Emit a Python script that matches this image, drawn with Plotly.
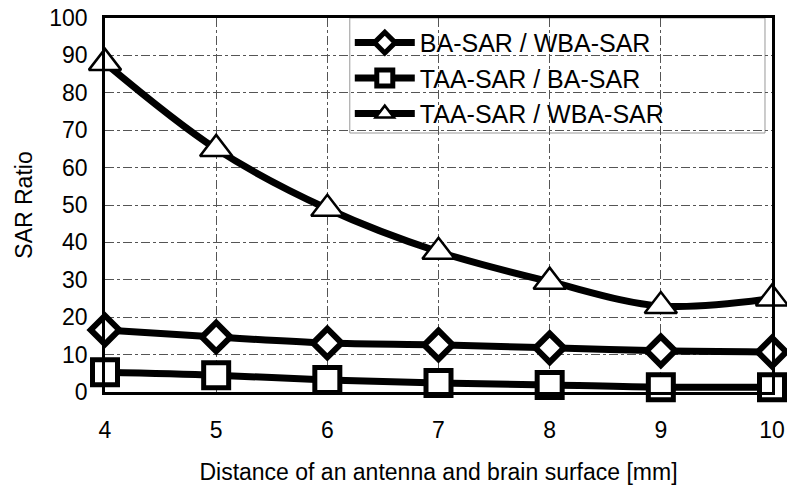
import plotly.graph_objects as go

distance = [4, 5, 6, 7, 8, 9, 10]
ba_wba = [16.6, 14.7, 13.1, 12.6, 11.8, 11.0, 10.7]
taa_ba = [5.3, 4.5, 3.2, 2.4, 1.9, 1.3, 1.3]
taa_wba = [88, 65, 49, 37.5, 29.5, 23, 25]
series_names = ["BA-SAR / WBA-SAR", "TAA-SAR / BA-SAR", "TAA-SAR / WBA-SAR"]
x_ticks = [4, 5, 6, 7, 8, 9, 10]
y_ticks = [0, 10, 20, 30, 40, 50, 60, 70, 80, 90, 100]

FAM = "Liberation Sans"

fig = go.Figure()
fig.add_trace(go.Scatter(
    x=distance, y=ba_wba, name=series_names[0], mode="lines+markers",
    line=dict(color="black", width=7, shape="spline"),
    marker=dict(symbol="diamond", size=22, color="white", line=dict(color="black", width=6)),
    cliponaxis=False))
fig.add_trace(go.Scatter(
    x=distance, y=taa_ba, name=series_names[1], mode="lines+markers",
    line=dict(color="black", width=7, shape="spline"),
    marker=dict(symbol="square", size=25, color="white", line=dict(color="black", width=5)),
    cliponaxis=False))
fig.add_trace(go.Scatter(
    x=distance, y=taa_wba, name=series_names[2], mode="lines+markers",
    line=dict(color="black", width=7, shape="spline"),
    marker=dict(symbol="triangle-up", size=28, color="white", line=dict(color="black", width=2.5)),
    cliponaxis=False))

# legend frame (wider than plotly's auto legend box, as in the reference)
fig.add_shape(type="rect", xref="paper", yref="paper",
              x0=0.367, x1=0.9895, y0=0.6925, y1=1.0,
              fillcolor="white", line=dict(color="#999", width=1), layer="between")

fig.update_layout(
    width=787, height=488,
    margin=dict(l=105, r=15, t=18, b=96, autoexpand=False),
    paper_bgcolor="white", plot_bgcolor="white",
    font=dict(family=FAM, size=23, color="black"),
    showlegend=True,
    hovermode=False,
    legend=dict(x=0.367, y=0.995, xanchor="left", yanchor="top",
                bgcolor="rgba(0,0,0,0)", borderwidth=0,
                font=dict(family=FAM, size=25, color="black"),
                itemwidth=60, tracegroupgap=0),
    xaxis=dict(range=[4, 10], tickmode="array", tickvals=x_ticks,
               showgrid=True, gridcolor="#555", gridwidth=1, griddash="dashdot",
               showline=True, linecolor="black", linewidth=2.5, mirror=True,
               ticks="", ticklabelstandoff=16,
               tickfont=dict(family=FAM, size=23, color="black"),
               automargin=False,
               title=dict(text="Distance of an antenna and brain surface [mm]", standoff=22,
                          font=dict(family=FAM, size=23, color="black")),
               zeroline=False),
    yaxis=dict(range=[0, 100], tickmode="array", tickvals=y_ticks,
               showgrid=True, gridcolor="#555", gridwidth=1, griddash="dashdot",
               showline=True, linecolor="black", linewidth=2.5, mirror=True,
               ticks="", ticklabelstandoff=10,
               tickfont=dict(family=FAM, size=23, color="black"),
               automargin=False,
               title=dict(text="SAR Ratio", standoff=11,
                          font=dict(family=FAM, size=23, color="black")),
               zeroline=False),
)

fig.write_html("out.html", config={"displayModeBar": False},
               post_script="document.body.style.margin='0';")
